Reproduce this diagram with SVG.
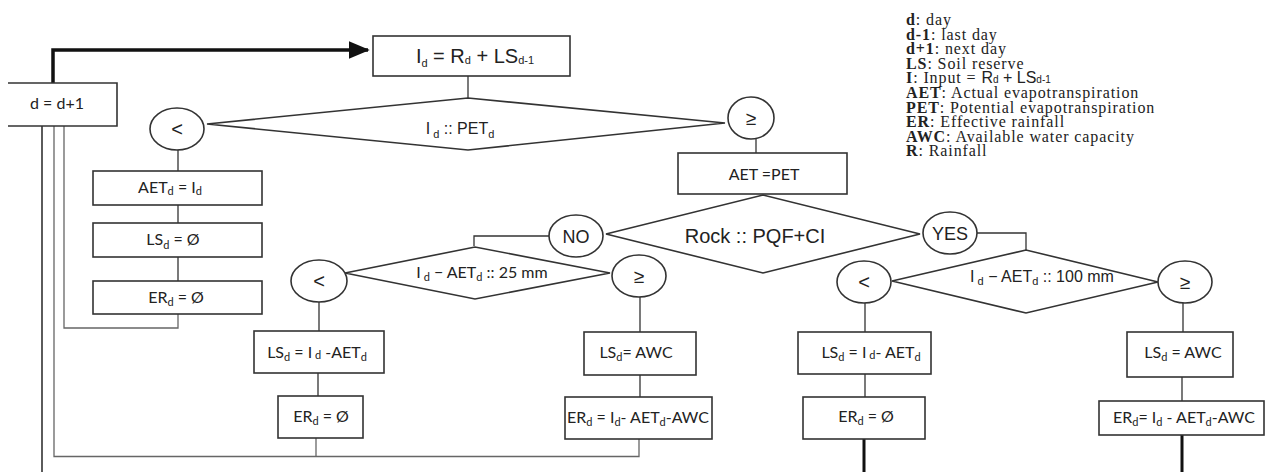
<svg xmlns="http://www.w3.org/2000/svg" width="1265" height="472" viewBox="0 0 1265 472">
<style>
.box{fill:#fff;stroke:#333;stroke-width:1.6}
.ln{fill:none;stroke:#333;stroke-width:1.3}
.lg{fill:none;stroke:#666;stroke-width:1.3}
.thick{fill:none;stroke:#111;stroke-width:3.5}
.t{font-family:Lato,"Liberation Sans",sans-serif;font-size:16px;fill:#222;text-anchor:middle}
.a{font-family:"Liberation Sans",Arial,sans-serif;fill:#222;text-anchor:middle}
.leg{font-family:"Liberation Serif","Times New Roman",serif;font-size:16px;letter-spacing:0.9px;fill:#222}
.b{font-weight:bold}
</style>
<defs>
<marker id="ah" markerWidth="6" markerHeight="5" refX="5.5" refY="2.5" orient="auto" markerUnits="strokeWidth">
<path d="M0,0 L6,2.5 L0,5 z" fill="#111"/>
</marker>
</defs>

<g id="connectors">
<path class="thick" d="M53,83 V50 H368" marker-end="url(#ah)"/>
<path class="ln" d="M468,76 V98"/>
<path class="ln" d="M178,150 V171 M178,205 V223 M178,257 V281"/>
<path class="lg" d="M178,314 V328 H64 V126"/>
<path class="lg" d="M54,126 V456.5 H639 V439"/>
<path class="lg" d="M316,438 V456.5"/>
<path class="ln" d="M42,126 V472" style="stroke-width:1.6"/>
<path class="ln" d="M756,138 V153"/>
<path class="ln" d="M549,236 H474 V246"/>
<path class="ln" d="M977,233 H1026 V250"/>
<path class="ln" d="M319,302 V331 M318,373 V396"/>
<path class="ln" d="M640,297 V332 M640,375 V397"/>
<path class="ln" d="M865,303 V332 M865,374 V397"/>
<path class="ln" d="M1183,303 V332 M1182,377 V401"/>
<path class="thick" d="M864,439 V472 M1182,435 V472" style="stroke-width:3"/>
</g>

<g id="n-dplus1">
<path class="box" d="M8,83 H117 V126 H8"/>
<text class="t" x="57" y="109">d = d+1</text>
</g>

<g id="n-input">
<rect class="box" x="373" y="36" width="197" height="40"/>
<text class="a" x="475" y="63" font-size="20">I<tspan font-size="11" dy="4">d</tspan><tspan dy="-4"> = R</tspan><tspan font-size="11" dy="1">d</tspan><tspan dy="-1"> + LS</tspan><tspan font-size="11" dy="1">d-1</tspan></text>
</g>

<g id="n-dec1">
<polygon class="box" points="207,124 468,98 725,123 468,150"/>
<text class="a" x="460" y="134" font-size="16">I<tspan font-size="11" dy="4"> d</tspan><tspan dy="-4"> :: PET</tspan><tspan font-size="11" dy="4">d</tspan></text>
</g>

<g id="n-lt1">
<ellipse class="box" cx="177" cy="129" rx="27" ry="21"/>
<text class="a" x="177" y="136" font-size="20">&lt;</text>
</g>

<g id="n-ge1">
<ellipse class="box" cx="751" cy="118" rx="23" ry="21"/>
<text class="a" x="751" y="125" font-size="19">≥</text>
</g>

<g id="n-aet-id">
<rect class="box" x="93" y="171" width="169" height="34"/>
<text class="t" x="170" y="193">AET<tspan font-size="11" dy="2">d</tspan><tspan dy="-2"> = I</tspan><tspan font-size="11" dy="2">d</tspan></text>
</g>

<g id="n-ls0">
<rect class="box" x="93" y="223" width="169" height="34"/>
<text class="t" x="173" y="245">LS<tspan font-size="11" dy="4">d</tspan><tspan dy="-4">  = Ø</tspan></text>
</g>

<g id="n-er0">
<rect class="box" x="93" y="281" width="169" height="33"/>
<text class="t" x="176" y="303">ER<tspan font-size="11" dy="3">d</tspan><tspan dy="-3">  = Ø</tspan></text>
</g>

<g id="n-aetpet">
<rect class="box" x="678" y="153" width="169" height="41"/>
<text class="t" x="764" y="180">AET =PET</text>
</g>

<g id="n-rock">
<polygon class="box" points="606,234 763,195 920,234 763,273"/>
<text class="a" x="755" y="243" font-size="20">Rock :: PQF+CI</text>
</g>

<g id="n-no">
<ellipse class="box" cx="576" cy="236" rx="27" ry="21"/>
<text class="a" x="576" y="243" font-size="18">NO</text>
</g>

<g id="n-yes">
<ellipse class="box" cx="950" cy="233" rx="27" ry="21"/>
<text class="a" x="950" y="240" font-size="18">YES</text>
</g>

<g id="n-dec25">
<polygon class="box" points="345,273 475,247 610,273 475,299"/>
<text class="t" x="482" y="278" font-size="16">I<tspan font-size="11" dy="3"> d</tspan><tspan dy="-3"> − AET</tspan><tspan font-size="11" dy="3">d</tspan><tspan dy="-3">  :: 25 mm</tspan></text>
</g>

<g id="n-lt2">
<ellipse class="box" cx="319" cy="281" rx="28" ry="21"/>
<text class="a" x="319" y="288" font-size="20">&lt;</text>
</g>

<g id="n-ge2">
<ellipse class="box" cx="639" cy="276" rx="27" ry="21"/>
<text class="a" x="639" y="283" font-size="19">≥</text>
</g>

<g id="n-ls1">
<rect class="box" x="254" y="331" width="130" height="42"/>
<text class="t" x="317" y="358">LS<tspan font-size="11" dy="3">d</tspan><tspan dy="-3">  = I</tspan><tspan font-size="11" dy="1"> d</tspan><tspan dy="-1"> -AET</tspan><tspan font-size="11" dy="3">d</tspan></text>
</g>

<g id="n-er1">
<rect class="box" x="278" y="396" width="85" height="42"/>
<text class="t" x="321" y="422">ER<tspan font-size="11" dy="3">d</tspan><tspan dy="-3">  = Ø</tspan></text>
</g>

<g id="n-ls2">
<rect class="box" x="584" y="332" width="112" height="43"/>
<text class="t" x="636" y="358">LS<tspan font-size="11" dy="3">d</tspan><tspan dy="-3">= AWC</tspan></text>
</g>

<g id="n-er2">
<rect class="box" x="565" y="397" width="147" height="42"/>
<text class="t" x="638" y="423">ER<tspan font-size="11" dy="3">d</tspan><tspan dy="-3"> = I</tspan><tspan font-size="11" dy="3">d</tspan><tspan dy="-3">- AET</tspan><tspan font-size="11" dy="3">d</tspan><tspan dy="-3">-AWC</tspan></text>
</g>

<g id="n-dec100">
<polygon class="box" points="892,281 1026,250 1158,282 1026,313"/>
<text class="a" x="1042" y="282" font-size="16">I<tspan font-size="11" dy="3"> d</tspan><tspan dy="-3"> − AET</tspan><tspan font-size="11" dy="3">d</tspan><tspan dy="-3">  :: 100 mm</tspan></text>
</g>

<g id="n-lt3">
<ellipse class="box" cx="864" cy="282" rx="27" ry="21"/>
<text class="a" x="864" y="289" font-size="20">&lt;</text>
</g>

<g id="n-ge3">
<ellipse class="box" cx="1185" cy="282" rx="27" ry="21"/>
<text class="a" x="1185" y="289" font-size="19">≥</text>
</g>

<g id="n-ls3">
<rect class="box" x="798" y="332" width="133" height="42"/>
<text class="t" x="871" y="358">LS<tspan font-size="11" dy="3">d</tspan><tspan dy="-3">  = I</tspan><tspan font-size="11" dy="1"> d</tspan><tspan dy="-1">- AET</tspan><tspan font-size="11" dy="3">d</tspan></text>
</g>

<g id="n-er3">
<rect class="box" x="803" y="397" width="122" height="42"/>
<text class="t" x="866" y="422">ER<tspan font-size="11" dy="3">d</tspan><tspan dy="-3">  = Ø</tspan></text>
</g>

<g id="n-ls4">
<rect class="box" x="1127" y="332" width="106" height="45"/>
<text class="t" x="1183" y="358">LS<tspan font-size="11" dy="3">d</tspan><tspan dy="-3">  = AWC</tspan></text>
</g>

<g id="n-er4">
<rect class="box" x="1099" y="401" width="165" height="34"/>
<text class="t" x="1184" y="423">ER<tspan font-size="11" dy="3">d</tspan><tspan dy="-3">= I</tspan><tspan font-size="11" dy="3">d</tspan><tspan dy="-3"> - AET</tspan><tspan font-size="11" dy="3">d</tspan><tspan dy="-3">-AWC</tspan></text>
</g>

<g id="legend">
<text class="leg" x="906" y="25"><tspan class="b">d</tspan>: day</text>
<text class="leg" x="906" y="39.6"><tspan class="b">d-1</tspan>: last day</text>
<text class="leg" x="906" y="54.2"><tspan class="b">d+1</tspan>: next day</text>
<text class="leg" x="906" y="68.8"><tspan class="b">LS</tspan>: Soil reserve</text>
<text class="leg" x="906" y="83.4"><tspan class="b">I</tspan>: Input = <tspan font-family="Liberation Sans, Arial, sans-serif" letter-spacing="0">R<tspan font-size="10">d</tspan> + LS<tspan font-size="10">d-1</tspan></tspan></text>
<text class="leg" x="906" y="98"><tspan class="b">AET</tspan>: Actual evapotranspiration</text>
<text class="leg" x="906" y="112.6"><tspan class="b">PET</tspan>: Potential evapotranspiration</text>
<text class="leg" x="906" y="127.2"><tspan class="b">ER</tspan>: Effective rainfall</text>
<text class="leg" x="906" y="141.8"><tspan class="b">AWC</tspan>: Available water capacity</text>
<text class="leg" x="906" y="156.4"><tspan class="b">R</tspan>: Rainfall</text>
</g>
</svg>
